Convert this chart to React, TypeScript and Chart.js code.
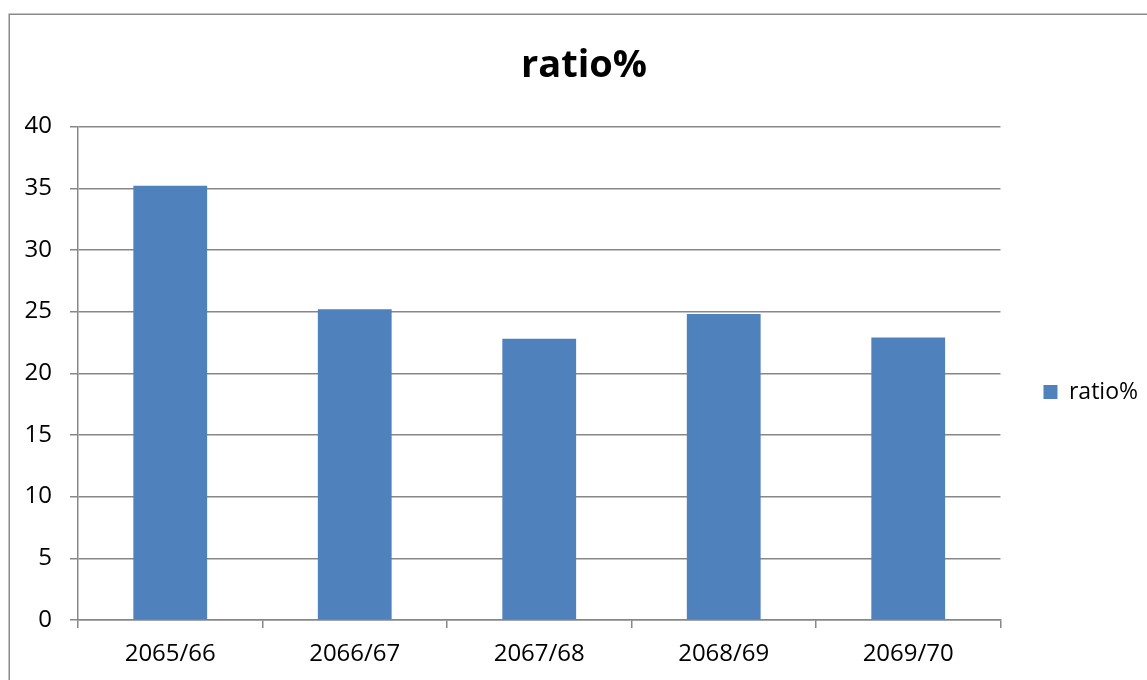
import React, { useEffect, useRef } from "react";
import { Chart, registerables } from "chart.js";

Chart.register(...registerables);

const categories = ["2065/66", "2066/67", "2067/68", "2068/69", "2069/70"];
const ratioValues = [35.2, 25.2, 22.8, 24.8, 22.9];
const seriesName = "ratio%";
const titleText = "ratio%";
const yMin = 0;
const yMax = 40;
const yStep = 5;

const GRID = "#878787";
const BAR = "#4F81BD";
const FONT = "'Open Sans', 'Noto Sans', sans-serif";

const framePlugin = {
  id: "frame",
  beforeDraw(chart: any) {
    const ctx = chart.ctx;
    ctx.save();
    ctx.fillStyle = "#ffffff";
    ctx.fillRect(0, 0, chart.width, chart.height);
    ctx.strokeStyle = "#898989";
    ctx.lineWidth = 1.5;
    ctx.strokeRect(9.25, 14.25, chart.width, chart.height);
    ctx.restore();
  },
};

export default function App() {
  const ref = useRef<HTMLCanvasElement | null>(null);

  useEffect(() => {
    if (!ref.current) return;
    Chart.defaults.font.family = FONT;
    const chart = new Chart(ref.current, {
      type: "bar",
      data: {
        labels: categories,
        datasets: [
          {
            label: seriesName,
            data: ratioValues,
            backgroundColor: BAR,
            borderWidth: 0,
            categoryPercentage: 1,
            barPercentage: 0.4,
          },
        ],
      },
      options: {
        responsive: false,
        animation: false,
        devicePixelRatio: 1,
        layout: { padding: { top: 0, left: 20, right: 0, bottom: 0 } },
        plugins: {
          title: {
            display: true,
            text: titleText,
            color: "#000",
            font: { size: 38, weight: "bold", family: FONT },
            padding: { top: 43, bottom: 38 },
          },
          legend: {
            display: true,
            position: "right",
            labels: {
              boxWidth: 14,
              boxHeight: 14,
              color: "#000",
              font: { size: 23, family: FONT },
              padding: 43,
            },
          },
          tooltip: { enabled: false },
        },
        scales: {
          x: {
            grid: {
              display: true,
              drawOnChartArea: false,
              drawTicks: true,
              tickLength: 8,
              color: GRID,
              lineWidth: 1.5,
            },
            border: { display: true, color: GRID, width: 1.5 },
            ticks: { color: "#000", font: { size: 24, family: FONT }, padding: 12 },
            afterFit: (s: any) => {
              s.height = 164;
            },
          },
          y: {
            min: yMin,
            max: yMax,
            ticks: {
              stepSize: yStep,
              color: "#000",
              font: { size: 24, family: FONT },
              padding: 18,
            },
            grid: { color: GRID, lineWidth: 1.5, tickLength: 8 },
            border: { display: true, color: GRID, width: 1.5 },
            afterFit: (s: any) => {
              s.width = 58;
            },
          },
        },
      },
      plugins: [framePlugin],
    });
    return () => chart.destroy();
  }, []);

  return (
    <div
      style={{
        position: "fixed",
        left: 0,
        top: 0,
        width: 1147,
        height: 680,
        overflow: "hidden",
        background: "#fff",
      }}
    >
      <canvas ref={ref} width={1148} height={784} style={{ width: 1148, height: 784, display: "block" }} />
    </div>
  );
}
